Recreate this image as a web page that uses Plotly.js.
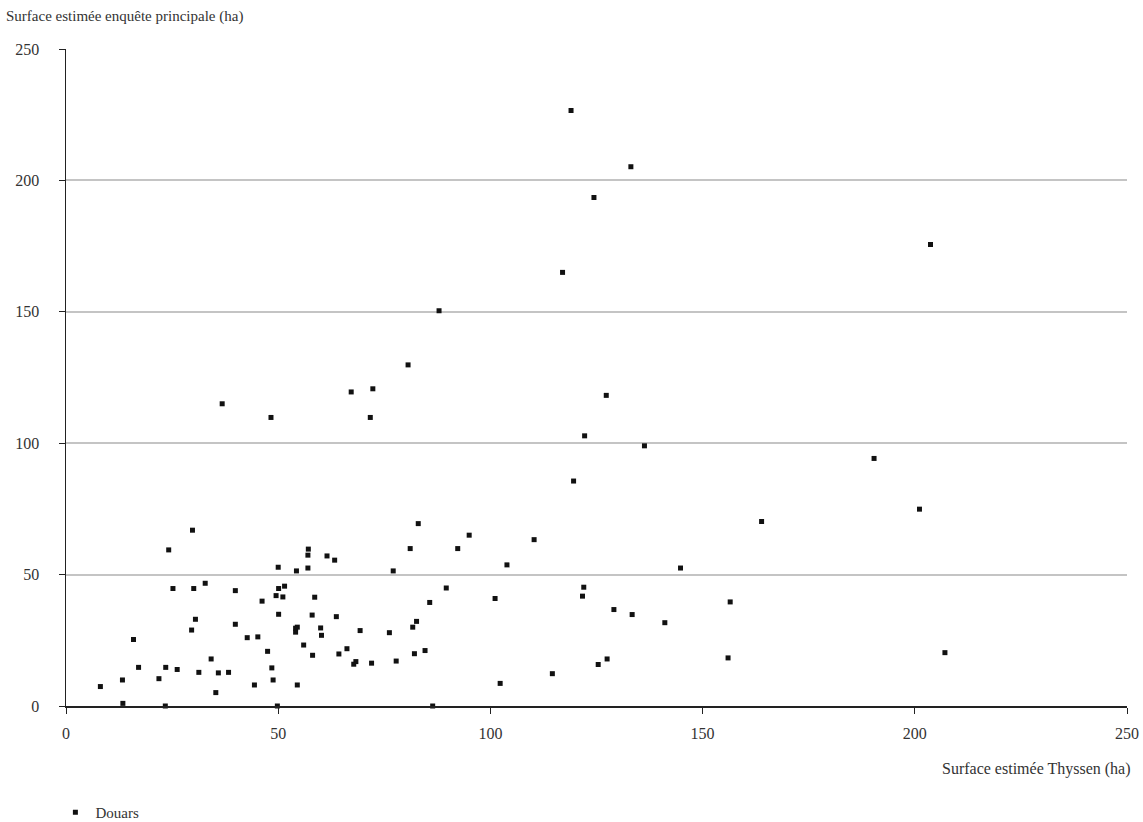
<!DOCTYPE html>
<html>
<head>
<meta charset="utf-8">
<script src="https://cdn.plot.ly/plotly-3.0.1.min.js"></script>
<style>html,body{margin:0;padding:0;background:#fff;}#chart{width:1143px;height:822px;}</style>
</head>
<body>
<div id="chart"></div>
<script>
// Surface estimée Thyssen (ha)
var thyssen = [
  29.8, 24.2, 25.2, 30.1, 32.8, 39.9, 30.5, 29.6, 39.9, 42.7, 45.2, 15.9, 17.1, 23.5, 26.2, 34.2,
  31.3, 35.9, 38.3, 13.3, 21.9, 8.1, 44.4, 35.3, 13.4, 23.4,
  83.0, 81.1, 57.1, 57.0, 61.5, 63.3, 50.0, 54.3, 57.0, 77.1, 51.5, 50.1, 49.5, 51.1, 58.6, 46.2,
  85.7, 50.1, 58.0, 63.7, 82.6, 81.7, 54.1, 54.5, 54.1, 60.0, 60.2, 69.3, 76.2, 56.0, 47.5, 58.1,
  64.3, 66.2, 82.1, 84.6, 68.3, 67.8, 72.0, 77.8, 48.5, 48.8, 54.5, 49.8, 86.4,
  119.6, 95.0, 92.3, 110.3, 103.9, 144.8, 89.6, 101.1, 122.0, 121.7, 129.1, 133.4, 141.1, 127.5,
  125.4, 114.6, 102.3,
  80.6, 67.2, 72.3, 36.8, 48.3, 71.7,
  119.0, 133.1, 124.4, 117.0,
  87.9, 127.3, 122.2, 136.3,
  190.4, 201.1, 163.9, 156.5, 156.0, 207.1,
  203.7
];
// Surface estimée enquête principale (ha)
var enquete = [
  66.9, 59.4, 44.7, 44.7, 46.7, 43.9, 33.0, 28.9, 31.1, 26.0, 26.3, 25.3, 14.7, 14.7, 13.9, 17.9,
  12.8, 12.6, 12.8, 9.9, 10.4, 7.4, 8.0, 5.1, 1.0, 0,
  69.4, 59.9, 59.7, 57.4, 57.1, 55.5, 52.8, 51.4, 52.5, 51.4, 45.6, 44.7, 42.0, 41.5, 41.4, 39.9,
  39.4, 34.9, 34.6, 34.0, 32.2, 30.0, 29.6, 30.0, 28.1, 29.7, 26.9, 28.7, 27.9, 23.2, 20.8, 19.3,
  19.8, 21.8, 19.9, 21.1, 16.9, 15.9, 16.3, 17.1, 14.5, 9.9, 8.0, 0, 0,
  85.6, 65.0, 59.9, 63.3, 53.7, 52.5, 44.9, 40.9, 45.2, 41.8, 36.7, 34.8, 31.7, 17.9,
  15.8, 12.3, 8.6,
  129.8, 119.5, 120.7, 115.0, 109.8, 109.8,
  226.6, 205.2, 193.5, 165.0,
  150.4, 118.2, 102.8, 99.0,
  94.2, 74.9, 70.2, 39.6, 18.3, 20.3,
  175.6
];
var seriesName = "Douars";
var tickVals = [0, 50, 100, 150, 200, 250];
var tickText = ["0", "50", "100", "150", "200", "250"];
var xTitle = "Surface estimée Thyssen (ha)";
var yTitle = "Surface estimée enquête principale (ha)";

var fontFam = "Liberation Serif, DejaVu Serif, serif";
var txtColor = "#333333";

var trace = {
  type: "scatter",
  mode: "markers",
  x: thyssen,
  y: enquete,
  name: seriesName,
  marker: {symbol: "square", size: 5, color: "#111111", line: {width: 0}},
  cliponaxis: false
};

var layout = {
  width: 1143,
  height: 822,
  paper_bgcolor: "#ffffff",
  plot_bgcolor: "#ffffff",
  margin: {l: 66, r: 16, t: 49, b: 116, autoexpand: false},
  font: {family: fontFam, size: 15, color: txtColor},
  showlegend: true,
  legend: {x: -0.01, y: -0.162, xanchor: "left", yanchor: "middle",
           font: {family: fontFam, size: 15, color: txtColor}, bgcolor: "rgba(0,0,0,0)"},
  xaxis: {
    range: [0, 250], tickvals: tickVals, ticktext: tickText,
    showgrid: false, zeroline: false,
    showline: true, linecolor: "#222", linewidth: 1.5,
    ticks: "outside", ticklen: 6, tickcolor: "#222", tickwidth: 1,
    ticklabelstandoff: 6,
    tickfont: {family: fontFam, size: 16, color: txtColor},
    fixedrange: true
  },
  yaxis: {
    range: [0, 250], tickvals: tickVals, ticktext: tickText,
    showgrid: true, gridcolor: "#c4c4c4", gridwidth: 2,
    zeroline: false,
    showline: true, linecolor: "#222", linewidth: 1.5,
    ticks: "outside", ticklen: 6, tickcolor: "#222", tickwidth: 1,
    ticklabelstandoff: 16,
    tickfont: {family: fontFam, size: 16, color: txtColor},
    fixedrange: true
  },
  annotations: [
    {text: yTitle, xref: "paper", yref: "paper", x: -0.058, y: 1.0, xanchor: "left", yanchor: "bottom",
     yshift: 22, showarrow: false, font: {family: fontFam, size: 15, color: txtColor}},
    {text: xTitle, xref: "paper", yref: "paper", x: 1.0, y: 0, xanchor: "right", yanchor: "top",
     xshift: 6, yshift: -52, showarrow: false, font: {family: fontFam, size: 16, color: txtColor}}
  ]
};

Plotly.newPlot("chart", [trace], layout, {displayModeBar: false, staticPlot: true});
</script>
</body>
</html>
